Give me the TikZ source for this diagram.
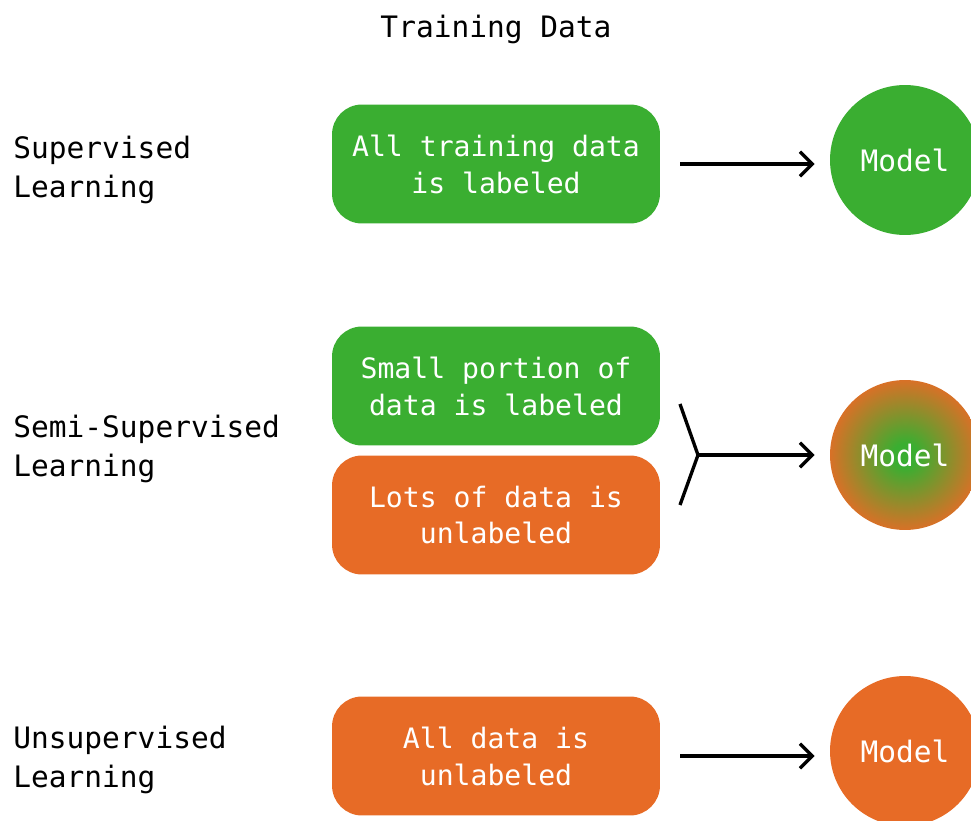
\documentclass[tikz,border=0pt]{standalone}
\usepackage{fontspec}
\setmonofont{DejaVu Sans Mono}
\usetikzlibrary{arrows.meta}

\definecolor{labgreen}{HTML}{3AAE31}
\definecolor{unlaborange}{HTML}{E76B26}

\pgfdeclareradialshading{modelmix}{\pgfpoint{0bp}{0bp}}{%
  color(0bp)=(labgreen); color(4bp)=(labgreen);
  color(27bp)=(unlaborange); color(50bp)=(unlaborange)}

\tikzset{
  every node/.style={font=\ttfamily\fontsize{16.8}{22}\selectfont},
  databox/.style={rounded corners=0.6cm,minimum width=6.56cm,minimum height=2.38cm,
    text=white,align=center,inner sep=0pt,font=\ttfamily\fontsize{16}{21}\selectfont},
  modelball/.style={circle,minimum size=3cm,inner sep=0pt,text=white},
  rowlabel/.style={anchor=west,align=left,inner sep=0pt},
  flow/.style={line width=1.9pt,-{Straight Barb[length=7pt,width=14pt,line width=1.9pt]},
    shorten <=0.4cm,shorten >=0.3cm},
  bar/.style={line width=1.9pt}
}

\begin{document}
\begin{tikzpicture}[x=0.02cm,y=-0.02cm]
\useasboundingbox (0,0) rectangle (971,821);
\clip (0,0) rectangle (971,821);
\node (title) at (496,29) {Training Data};
% row labels
\node[rowlabel] (suplab) at (13,170) {Supervised\\Learning};
\node[rowlabel] (semilab) at (13,449) {Semi-Supervised\\Learning};
\node[rowlabel] (unsuplab) at (13,760) {Unsupervised\\Learning};
% training data boxes
\node[databox,fill=labgreen] (supbox) at (496,164) {All training data\\is labeled};
\node[databox,fill=labgreen] (semibox) at (496,386) {Small portion of\\data is labeled};
\node[databox,fill=unlaborange] (lotsbox) at (496,515) {Lots of data is\\unlabeled};
\node[databox,fill=unlaborange] (unsupbox) at (496,756) {All data is\\unlabeled};
% models
\node[modelball,fill=labgreen] (supmodel) at (905,160) {Model};
\node[modelball,shading=modelmix] (semimodel) at (905,455) {Model};
\node[modelball,fill=unlaborange] (unsupmodel) at (905,751) {Model};
% arrows
\draw[flow] (supbox.east) -- (supbox.east -| supmodel.west);
\draw[flow] (unsupbox.east) -- (unsupbox.east -| unsupmodel.west);
\coordinate (brtop) at (680,404);
\coordinate (brjoin) at (698,455);
\coordinate (brbot) at (680,505);
\draw[bar,line join=miter] (brtop) -- (brjoin) -- (brbot);
\draw[flow,shorten <=0pt] (brjoin) -- (semimodel);
\end{tikzpicture}
\end{document}
